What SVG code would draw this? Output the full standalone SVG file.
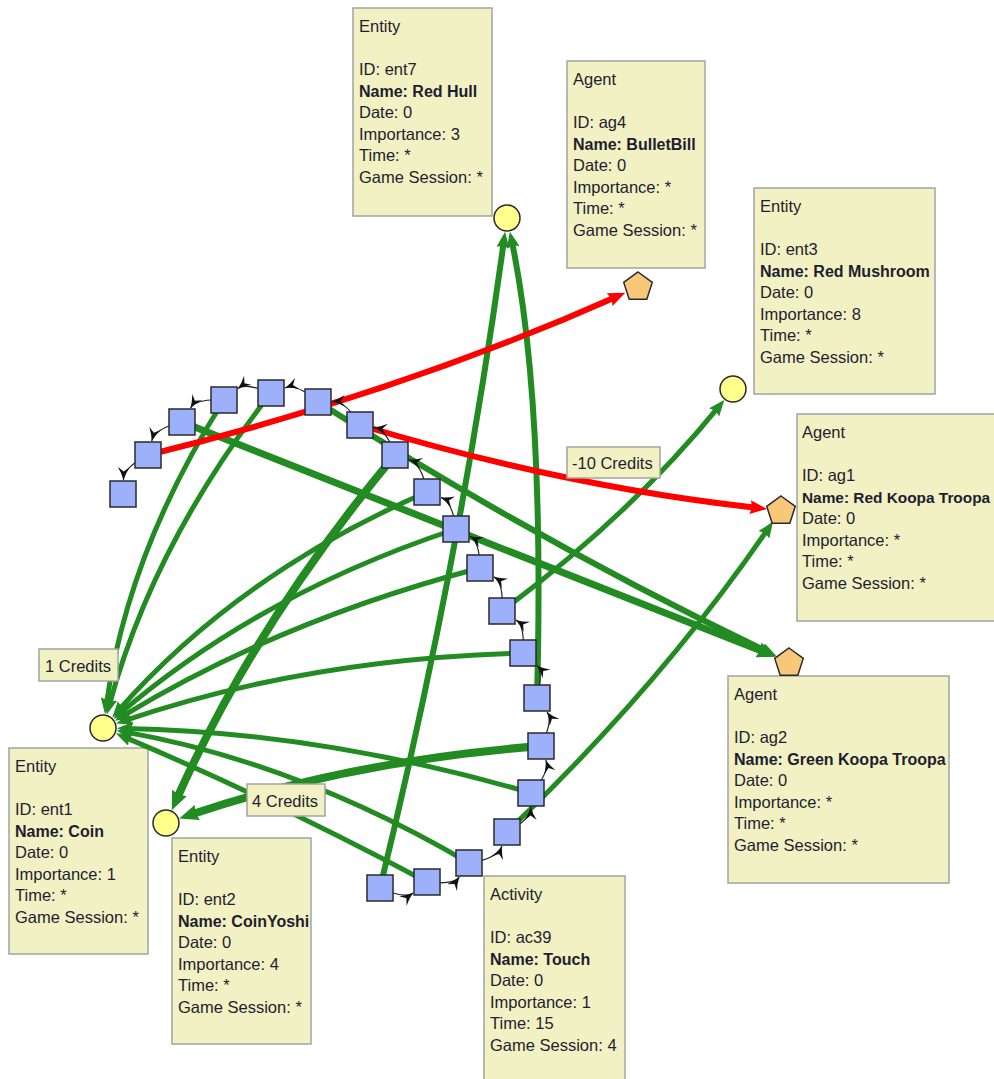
<svg xmlns="http://www.w3.org/2000/svg" width="994" height="1079" viewBox="0 0 994 1079">
<style>
.box{fill:#f1f1c3;stroke:#a3a3a3;stroke-width:1.5}
.t{font-family:"Liberation Sans",Arial,sans-serif;font-size:16.5px;fill:#1e1e30}
.b{font-weight:bold;font-size:16px}
.g{fill:none;stroke:#228b22}
.r{fill:none;stroke:#ff0000;stroke-width:6}
.ch{fill:none;stroke:#222;stroke-width:1.2}
.sq{fill:#9cb0fb;stroke:#2a2a2a;stroke-width:1.5}
.ci{fill:#ffff8c;stroke:#2a2a2a;stroke-width:1.5}
.pe{fill:#f8c87a;stroke:#2a2a2a;stroke-width:1.5}
</style>
<defs>
<marker id="gm" viewBox="0 0 16 13" refX="8" refY="6.5" markerWidth="16" markerHeight="13" markerUnits="userSpaceOnUse" orient="auto"><path d="M0,0 L16,6.5 L0,13 L2,6.5 z" fill="#228b22"/></marker>
<marker id="gmt" viewBox="0 0 19 16" refX="8" refY="8" markerWidth="19" markerHeight="16" markerUnits="userSpaceOnUse" orient="auto"><path d="M0,0 L19,8 L0,16 L2,8 z" fill="#228b22"/></marker>
<marker id="rm" viewBox="0 0 17 14" refX="8" refY="7" markerWidth="17" markerHeight="14" markerUnits="userSpaceOnUse" orient="auto"><path d="M0,0 L17,7 L0,14 L2,7 z" fill="#ff0000"/></marker>
<marker id="ah" viewBox="0 0 13 12" refX="13" refY="6" markerWidth="13" markerHeight="12" markerUnits="userSpaceOnUse" orient="auto"><path d="M0,0 Q6,4 13,6 Q6,8 0,12 L4.5,6 z" fill="#111"/></marker>
</defs>
<rect width="994" height="1079" fill="#ffffff"/>

<g id="info-ent7"><rect class="box" x="353" y="8" width="139" height="208"/>
<text class="t"><tspan x="359" y="31.5">Entity</tspan><tspan x="359" y="75">ID: ent7</tspan><tspan x="359" y="96.5" class="b">Name: Red Hull</tspan><tspan x="359" y="118">Date: 0</tspan><tspan x="359" y="139.5">Importance: 3</tspan><tspan x="359" y="161">Time: *</tspan><tspan x="359" y="182.5">Game Session: *</tspan></text></g>
<g id="info-ag4"><rect class="box" x="567" y="61" width="138" height="207"/>
<text class="t"><tspan x="573" y="84.5">Agent</tspan><tspan x="573" y="128">ID: ag4</tspan><tspan x="573" y="149.5" class="b">Name: BulletBill</tspan><tspan x="573" y="171">Date: 0</tspan><tspan x="573" y="192.5">Importance: *</tspan><tspan x="573" y="214">Time: *</tspan><tspan x="573" y="235.5">Game Session: *</tspan></text></g>
<g id="info-ent3"><rect class="box" x="754" y="188" width="181" height="206"/>
<text class="t"><tspan x="760" y="211.5">Entity</tspan><tspan x="760" y="255">ID: ent3</tspan><tspan x="760" y="276.5" class="b">Name: Red Mushroom</tspan><tspan x="760" y="298">Date: 0</tspan><tspan x="760" y="319.5">Importance: 8</tspan><tspan x="760" y="341">Time: *</tspan><tspan x="760" y="362.5">Game Session: *</tspan></text></g>
<g id="info-ag1"><rect class="box" x="797" y="414" width="210" height="207"/>
<text class="t"><tspan x="802" y="437.5">Agent</tspan><tspan x="802" y="481">ID: ag1</tspan><tspan x="802" y="502.5" class="b" style="font-size:15.4px">Name: Red Koopa Troopa</tspan><tspan x="802" y="524">Date: 0</tspan><tspan x="802" y="545.5">Importance: *</tspan><tspan x="802" y="567">Time: *</tspan><tspan x="802" y="588.5">Game Session: *</tspan></text></g>
<g id="info-ag2"><rect class="box" x="728" y="676" width="221" height="207"/>
<text class="t"><tspan x="734" y="699.5">Agent</tspan><tspan x="734" y="743">ID: ag2</tspan><tspan x="734" y="764.5" class="b">Name: Green Koopa Troopa</tspan><tspan x="734" y="786">Date: 0</tspan><tspan x="734" y="807.5">Importance: *</tspan><tspan x="734" y="829">Time: *</tspan><tspan x="734" y="850.5">Game Session: *</tspan></text></g>
<g id="info-ent1"><rect class="box" x="9" y="748" width="139" height="206"/>
<text class="t"><tspan x="15" y="771.5">Entity</tspan><tspan x="15" y="815">ID: ent1</tspan><tspan x="15" y="836.5" class="b">Name: Coin</tspan><tspan x="15" y="858">Date: 0</tspan><tspan x="15" y="879.5">Importance: 1</tspan><tspan x="15" y="901">Time: *</tspan><tspan x="15" y="922.5">Game Session: *</tspan></text></g>
<g id="info-ent2"><rect class="box" x="172" y="838" width="139" height="206"/>
<text class="t"><tspan x="178" y="861.5">Entity</tspan><tspan x="178" y="905">ID: ent2</tspan><tspan x="178" y="926.5" class="b">Name: CoinYoshi</tspan><tspan x="178" y="948">Date: 0</tspan><tspan x="178" y="969.5">Importance: 4</tspan><tspan x="178" y="991">Time: *</tspan><tspan x="178" y="1012.5">Game Session: *</tspan></text></g>
<g id="info-ac39"><rect class="box" x="484" y="876" width="141" height="215"/>
<text class="t"><tspan x="490" y="899.5">Activity</tspan><tspan x="490" y="943">ID: ac39</tspan><tspan x="490" y="964.5" class="b">Name: Touch</tspan><tspan x="490" y="986">Date: 0</tspan><tspan x="490" y="1007.5">Importance: 1</tspan><tspan x="490" y="1029">Time: 15</tspan><tspan x="490" y="1050.5">Game Session: 4</tspan></text></g>

<g id="connectors">
<g marker-end="url(#gm)">
<path class="g" stroke-width="6" d="M380,888 Q461,556 504,239.8"/>
<path class="g" stroke-width="6" d="M537,698 Q545,400 511.5,239.5"/>
<path class="g" stroke-width="5" d="M507,832 Q661,685 768.5,528.2"/>
<path class="g" stroke-width="5" d="M502,611 Q631.4,514.4 719.2,406.1"/>
<path class="g" stroke-width="6" d="M318,402 Q545.8,546 769.1,652.5"/>
<path class="g" stroke-width="5" d="M224,400 Q127.9,550.9 106.1,706.2"/>
<path class="g" stroke-width="5" d="M271,393 Q153,543.5 108.8,706.8"/>
<path class="g" stroke-width="5" d="M427,492 Q238.5,573.6 117.5,711.5"/>
<path class="g" stroke-width="5" d="M456,529 Q259.9,593.7 119.7,713.7"/>
<path class="g" stroke-width="5" d="M480,568 Q279.8,620.4 121.8,716.6"/>
<path class="g" stroke-width="5" d="M523,653 Q307.3,658.5 123.8,720.9"/>
<path class="g" stroke-width="5" d="M531,793 Q321.4,731.8 125,728.4"/>
<path class="g" stroke-width="5" d="M469,863 Q298.1,762.7 124.6,731.9"/>
<path class="g" stroke-width="5" d="M427,882 Q268.4,797.8 123.3,736.6"/>
</g>
<g marker-end="url(#gmt)">
<path class="g" stroke-width="7" d="M182,422 L765.8,652.8"/>
<path class="g" stroke-width="8" d="M395,455 Q255,623 176.2,800.2"/>
<path class="g" stroke-width="8" d="M541,746 Q348.7,761 189.7,815"/>
</g>
<g marker-end="url(#rm)">
<path class="r" d="M148,455 Q400.5,392.8 617,296.4"/>
<path class="r" d="M360,425 Q566.5,487.1 758.1,508"/>
</g>
<g marker-end="url(#ah)">
<path class="ch" d="M380,888 Q405.3,899.1 413.1,893"/>
<path class="ch" d="M427,882 Q453.7,885.1 459.4,876.9"/>
<path class="ch" d="M469,863 Q497.3,858.9 502,846"/>
<path class="ch" d="M507,832 Q530.7,819.7 530.8,807"/>
<path class="ch" d="M531,793 Q550.1,772.5 545.8,760"/>
<path class="ch" d="M541,746 Q553.4,720.8 547,711.9"/>
<path class="ch" d="M537,698 Q543.5,671.3 536.9,665.4"/>
<path class="ch" d="M523,653 Q525.1,625.7 515.9,619.9"/>
<path class="ch" d="M502,611 Q503.9,582.9 493.9,576.7"/>
<path class="ch" d="M480,568 Q479.7,541.3 469.9,536.2"/>
<path class="ch" d="M456,529 Q452.6,501.8 441,497.4"/>
<path class="ch" d="M427,492 Q422.1,463.9 409,459.6"/>
<path class="ch" d="M395,455 Q386.5,429.5 374,427.4"/>
<path class="ch" d="M360,425 Q345.9,400.9 332,401.5"/>
<path class="ch" d="M318,402 Q297.2,383.4 285,387.9"/>
<path class="ch" d="M271,393 Q245.4,382.4 237.9,388.6"/>
<path class="ch" d="M224,400 Q196.4,398.4 190.5,408.1"/>
<path class="ch" d="M182,422 Q155.1,428.3 151.7,441"/>
<path class="ch" d="M148,455 Q123.8,467 123.4,480"/>
</g>
<g id="edge-labels">
<rect class="box" x="567" y="447" width="93" height="31"/><text class="t" x="572" y="469">-10 Credits</text>
<rect class="box" x="39" y="649" width="79" height="32"/><text class="t" x="45" y="672">1 Credits</text>
<rect class="box" x="247" y="784" width="78" height="32"/><text class="t" x="252" y="807">4 Credits</text>
</g>
</g>

<g id="sq1"><rect class="sq" x="110" y="481" width="26" height="26"/></g>
<g id="sq2"><rect class="sq" x="135" y="442" width="26" height="26"/></g>
<g id="sq3"><rect class="sq" x="169" y="409" width="26" height="26"/></g>
<g id="sq4"><rect class="sq" x="211" y="387" width="26" height="26"/></g>
<g id="sq5"><rect class="sq" x="258" y="380" width="26" height="26"/></g>
<g id="sq6"><rect class="sq" x="305" y="389" width="26" height="26"/></g>
<g id="sq7"><rect class="sq" x="347" y="412" width="26" height="26"/></g>
<g id="sq8"><rect class="sq" x="382" y="442" width="26" height="26"/></g>
<g id="sq9"><rect class="sq" x="414" y="479" width="26" height="26"/></g>
<g id="sq10"><rect class="sq" x="443" y="516" width="26" height="26"/></g>
<g id="sq11"><rect class="sq" x="467" y="555" width="26" height="26"/></g>
<g id="sq12"><rect class="sq" x="489" y="598" width="26" height="26"/></g>
<g id="sq13"><rect class="sq" x="510" y="640" width="26" height="26"/></g>
<g id="sq14"><rect class="sq" x="524" y="685" width="26" height="26"/></g>
<g id="sq15"><rect class="sq" x="528" y="733" width="26" height="26"/></g>
<g id="sq16"><rect class="sq" x="518" y="780" width="26" height="26"/></g>
<g id="sq17"><rect class="sq" x="494" y="819" width="26" height="26"/></g>
<g id="sq18"><rect class="sq" x="456" y="850" width="26" height="26"/></g>
<g id="sq19"><rect class="sq" x="414" y="869" width="26" height="26"/></g>
<g id="sq20"><rect class="sq" x="367" y="875" width="26" height="26"/></g>

<g id="ent7"><circle class="ci" cx="507" cy="218" r="13"/></g>
<g id="ent3"><circle class="ci" cx="733" cy="389" r="13"/></g>
<g id="ent1"><circle class="ci" cx="103" cy="728" r="13"/></g>
<g id="ent2"><circle class="ci" cx="166" cy="823" r="13"/></g>
<g id="ag4"><polygon class="pe" points="638,272 652.27,282.36 646.82,299.14 629.18,299.14 623.73,282.36"/></g>
<g id="ag1"><polygon class="pe" points="781,496 795.27,506.36 789.82,523.14 772.18,523.14 766.73,506.36"/></g>
<g id="ag2"><polygon class="pe" points="789,648 803.27,658.36 797.82,675.14 780.18,675.14 774.73,658.36"/></g>
</svg>
